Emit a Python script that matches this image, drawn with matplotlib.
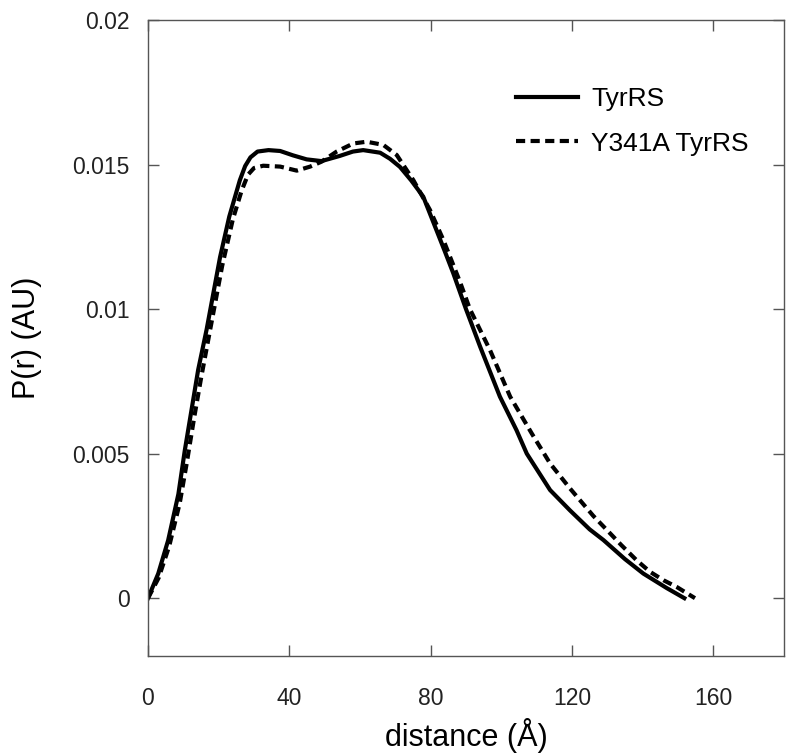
import matplotlib
matplotlib.use("Agg")
import matplotlib.pyplot as plt

plt.rcParams['font.family'] = ['Liberation Sans', 'DejaVu Sans']

# P(r) distributions
wt_r = [0, 2.9, 5.7, 8.6, 10.4, 12.3, 14.2, 16.6, 20.4, 23, 26.0, 27.5, 29.0, 31.0, 34.1,
        37.4, 41, 44.9, 49.1, 54.3, 58, 60.9, 65.7, 68.5, 71.3, 74.5, 77.9, 84.0,
        86.4, 90, 94.0, 99.6, 104.3, 107.2, 113.8, 119.4, 125, 128.9, 135, 140.2, 146.8, 151.8]
wt_p = [0, 0.00085, 0.0020, 0.0036, 0.0051, 0.0065, 0.0079, 0.0093, 0.0118, 0.0132,
        0.01446, 0.01495, 0.01525, 0.01545, 0.0155, 0.01547, 0.01532, 0.01518, 0.01512,
        0.0153, 0.01545, 0.0155, 0.01541, 0.0152, 0.01492, 0.01445, 0.01389, 0.0120,
        0.01124, 0.0100, 0.0087, 0.00697, 0.00581, 0.0050, 0.00374, 0.00304, 0.00238,
        0.00201, 0.00135, 0.00085, 0.00035, 0.0]

mut_r = [0, 3, 6, 9, 11, 13, 15, 17.3, 21, 24, 26.5, 28.3, 30.0, 32.6, 37.4, 42.1,
         45.9, 49.1, 53.4, 58.1, 61.9, 66.6, 70.4, 75.1, 79.8, 83.6, 88.3, 91.1, 96.8,
         102.5, 108.6, 113.8, 119.4, 126.0, 130.8, 134.0, 138.3, 142.1, 145.9, 149.6, 154.8]
mut_p = [0, 0.0007, 0.0018, 0.0033, 0.0047, 0.0062, 0.0076, 0.0091, 0.0115, 0.0131,
         0.0141, 0.01465, 0.01488, 0.01496, 0.01493, 0.01479, 0.01493, 0.0151, 0.01545,
         0.01573, 0.01579, 0.01568, 0.01533, 0.01446, 0.01343, 0.01239, 0.01094, 0.0100,
         0.00858, 0.00697, 0.0057, 0.00466, 0.0038, 0.00285, 0.00224, 0.00183, 0.00131,
         0.00091, 0.00062, 0.00039, 0.0]

xticks = [0, 40, 80, 120, 160]
yticks = [0, 0.005, 0.01, 0.015, 0.02]
ytick_labels = ['0', '0.005', '0.01', '0.015', '0.02']

fig = plt.figure(figsize=(8, 7.56), dpi=100)
ax = fig.add_axes([0.185, 0.1323, 0.795, 0.8412])

ax.plot(wt_r, wt_p, color='black', lw=3, label='TyrRS', solid_joinstyle='round')
ax.plot(mut_r, mut_p, color='black', lw=3, dashes=(2.2, 1.3), label='Y341A TyrRS')

ax.set_xlim(0, 180)
ax.set_ylim(-0.002, 0.02)
ax.set_xticks(xticks)
ax.set_yticks(yticks)
ax.set_yticklabels(ytick_labels)

for s in ax.spines.values():
    s.set_color('#555555')
    s.set_linewidth(1.0)
ax.tick_params(direction='in', length=8, width=1, color='#555555',
               top=True, right=True, labelsize=16.5, labelcolor='#222222')
ax.tick_params(axis='y', pad=13)
ax.tick_params(axis='x', pad=22)

ax.set_xlabel('distance (Å)', fontsize=22, labelpad=6)
ax.set_ylabel('P(r) (AU)', fontsize=22, labelpad=22)

ax.legend(loc='upper left', bbox_to_anchor=(516 / 800, 1 - 87 / 756),
          bbox_transform=fig.transFigure, frameon=False, fontsize=19,
          borderpad=0, borderaxespad=0, handlelength=2.35, handletextpad=0.5,
          labelspacing=0.78)

fig.savefig('out.png', dpi=100)
